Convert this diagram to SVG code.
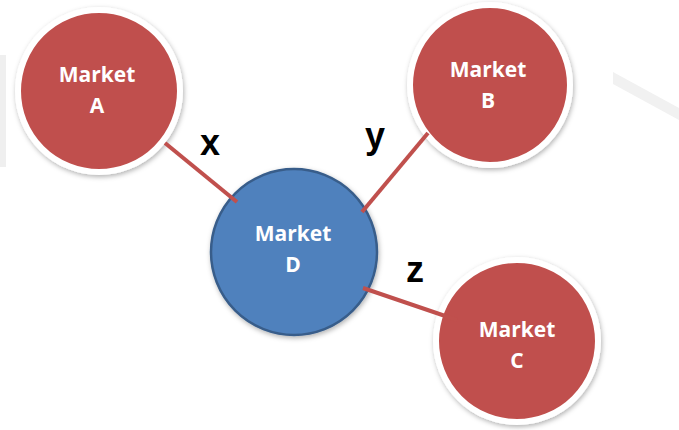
<svg xmlns="http://www.w3.org/2000/svg" width="679" height="430" viewBox="0 0 679 430">
<defs>
<filter id="sh" x="-20%" y="-20%" width="140%" height="140%">
<feDropShadow dx="1" dy="2" stdDeviation="2.5" flood-color="#000" flood-opacity="0.3"/>
</filter>
<style>
.red{fill:#C0504D;stroke:#FFFFFF;stroke-width:6;filter:url(#sh)}
.blue{fill:#4F81BD;stroke:#385D8A;stroke-width:2.5;filter:url(#sh)}
.lbl{font-family:"Open Sans","Liberation Sans",sans-serif;font-weight:bold;font-size:21px;fill:#FFFFFF;text-anchor:middle}
.edge{stroke:#C0504D;stroke-width:4;fill:none;stroke-linecap:butt}
.el{font-family:"Liberation Sans",sans-serif;font-weight:bold;font-size:36px;fill:#000000;text-anchor:middle}
</style>
</defs>
<rect width="679" height="430" fill="#FFFFFF"/>
<rect x="0" y="55" width="6" height="112" fill="#EFEFEF"/>
<polygon points="613,72 679,108 679,120 613,84" fill="#F1F1F1"/>
<g id="nodeA">
<circle class="red" cx="99" cy="91" r="81"/>
<text class="lbl" x="97" y="82">Market</text>
<text class="lbl" x="97" y="113">A</text>
</g>
<g id="nodeB">
<circle class="red" cx="490" cy="85" r="80"/>
<text class="lbl" x="488" y="77">Market</text>
<text class="lbl" x="488" y="108">B</text>
</g>
<g id="nodeD">
<circle class="blue" cx="294" cy="252" r="83"/>
<text class="lbl" x="293" y="241">Market</text>
<text class="lbl" x="293" y="272">D</text>
</g>
<g id="nodeC">
<circle class="red" cx="517" cy="341" r="81"/>
<text class="lbl" x="517" y="337">Market</text>
<text class="lbl" x="517" y="368">C</text>
</g>
<g id="connectors">
<line class="edge" x1="165" y1="143" x2="237" y2="202"/>
<line class="edge" x1="428" y1="133" x2="362" y2="212"/>
<line class="edge" x1="363" y1="288" x2="457" y2="320"/>
</g>
<g id="edge-labels">
<text class="el" x="210" y="155">x</text>
<text class="el" x="375" y="148">y</text>
<text class="el" x="415" y="282">z</text>
</g>
</svg>
